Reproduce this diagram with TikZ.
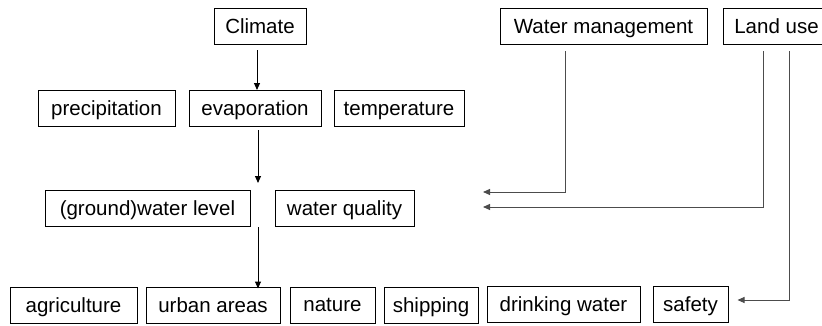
\documentclass[tikz,border=0pt]{standalone}
\usepackage{fontspec}
\setmainfont{Liberation Sans}
\usetikzlibrary{arrows.meta}
\begin{document}
\begin{tikzpicture}[x=1pt,y=-1pt,
  box/.style={draw=black,line width=1pt,inner sep=0pt,minimum height=36pt,font=\fontsize{20.5}{24}\selectfont,text depth=0pt},
  conn/.style={line width=1pt,-{Triangle[length=7pt,width=6pt]}},
  gconn/.style={conn,draw=black!70}]
\useasboundingbox (0,0) rectangle (822,325);
\begin{scope}
\clip (0,0) rectangle (822,325);
\node[box,minimum width=92pt] (climate) at (260,26.5) {Climate};
\node[box,minimum width=137pt] (precip) at (106.5,108.5) {precipitation};
\node[box,minimum width=132pt] (evap) at (255,108.5) {evaporation};
\node[box,minimum width=130pt] (temp) at (399,108.5) {temperature};
\node[box,minimum width=205pt] (gwl) at (147.5,208.5) {(ground)water level};
\node[box,minimum width=139pt] (wq) at (344.5,208.5) {water quality};
\node[box,minimum width=127pt] (agri) at (73.5,305) {agriculture};
\node[box,minimum width=134pt] (urban) at (213,305) {urban areas};
\node[box,minimum width=85pt] (nature) at (332.5,305) {nature};
\node[box,minimum width=94pt] (ship) at (431,305) {shipping};
\node[box,minimum width=153pt] (drink) at (563.5,304) {drinking water};
\node[box,minimum width=75pt] (safety) at (690.5,304) {safety};
\node[box,minimum width=207pt] (wm) at (603.5,26.5) {Water management};
\node[box,minimum width=107pt] (land) at (776.5,26.5) {Land use};
\end{scope}
% free ends
\coordinate (evapend) at (258,183);
\coordinate (wmend) at (483,192);
\coordinate (lu1end) at (483,207);
\coordinate (safeend) at ([xshift=9pt]safety.east |- 0,300);
\coordinate (urbanend) at ([yshift=-2pt]urban.north -| 258,0);
% connectors
\draw[conn] (257,50) coordinate (c1) -- (c1 |- evap.north);
\draw[conn] (evap.south -| evapend) ++(0,3) -- (evapend);
\draw[conn] (258,227) -- (urbanend);
\draw[gconn] (wm.south -| 565,0) ++(0,6) -- (565,192) -- (wmend);
\draw[gconn] (land.south -| 763,0) ++(0,6) -- (763,207) -- (lu1end);
\draw[gconn] (land.south -| 789,0) ++(0,6) -- (789,300) -- (safeend);
\end{tikzpicture}
\end{document}
